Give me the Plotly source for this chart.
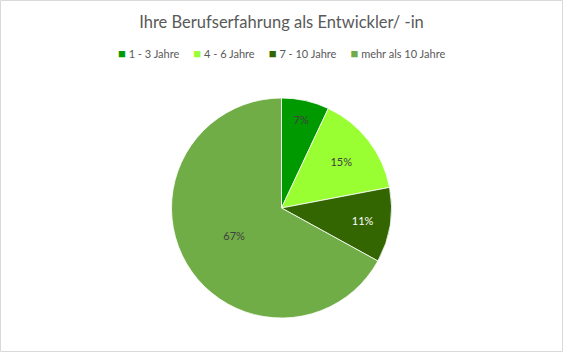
import plotly.graph_objects as go

labels = ["1 - 3 Jahre", "4 - 6 Jahre", "7 - 10 Jahre", "mehr als 10 Jahre"]
values = [7, 15, 11, 67]
colors = ["#009900", "#99FF33", "#336600", "#70AD47"]
text_colors = ["#404040", "#404040", "#FFFFFF", "#404040"]

W, H = 563, 352
cy, r = 208, 110

fig = go.Figure(go.Pie(
    labels=labels,
    values=values,
    sort=False,
    direction="clockwise",
    rotation=0,
    marker=dict(colors=colors, line=dict(color="#FFFFFF", width=0.8)),
    texttemplate="%{percent:.0%}",
    textposition="inside",
    insidetextorientation="horizontal",
    textfont=dict(color=text_colors, size=11, family="Lato"),
    hoverinfo="label+percent",
    domain=dict(x=[0, 1], y=[1 - (cy + r) / H, 1 - (cy - r) / H]),
    showlegend=False,
))

legend_text = "&nbsp;&nbsp;&nbsp;&nbsp;&nbsp;".join(
    f"<span style='color:{c};font-size:13px'>■</span>&nbsp;{l}" for l, c in zip(labels, colors)
)

fig.update_layout(
    width=W, height=H,
    margin=dict(l=0, r=0, t=0, b=0),
    paper_bgcolor="white",
    title=dict(text="Ihre Berufserfahrung als Entwickler/ -in", x=0.5, xanchor="center",
               y=1 - 22 / H, yanchor="middle",
               font=dict(family="Lato", size=16.5, color="#595959")),
    annotations=[dict(text=legend_text, xref="paper", yref="paper", x=0.5, y=1 - 53 / H,
                      xanchor="center", yanchor="middle", showarrow=False,
                      font=dict(family="Lato", size=11, color="#595959"))],
    shapes=[dict(type="rect", xref="paper", yref="paper", x0=0.5 / W, x1=1 - 0.5 / W,
                 y0=0.5 / H, y1=1 - 0.5 / H, line=dict(color="#D9D9D9", width=1))],
)

fig.write_html("out.html")
